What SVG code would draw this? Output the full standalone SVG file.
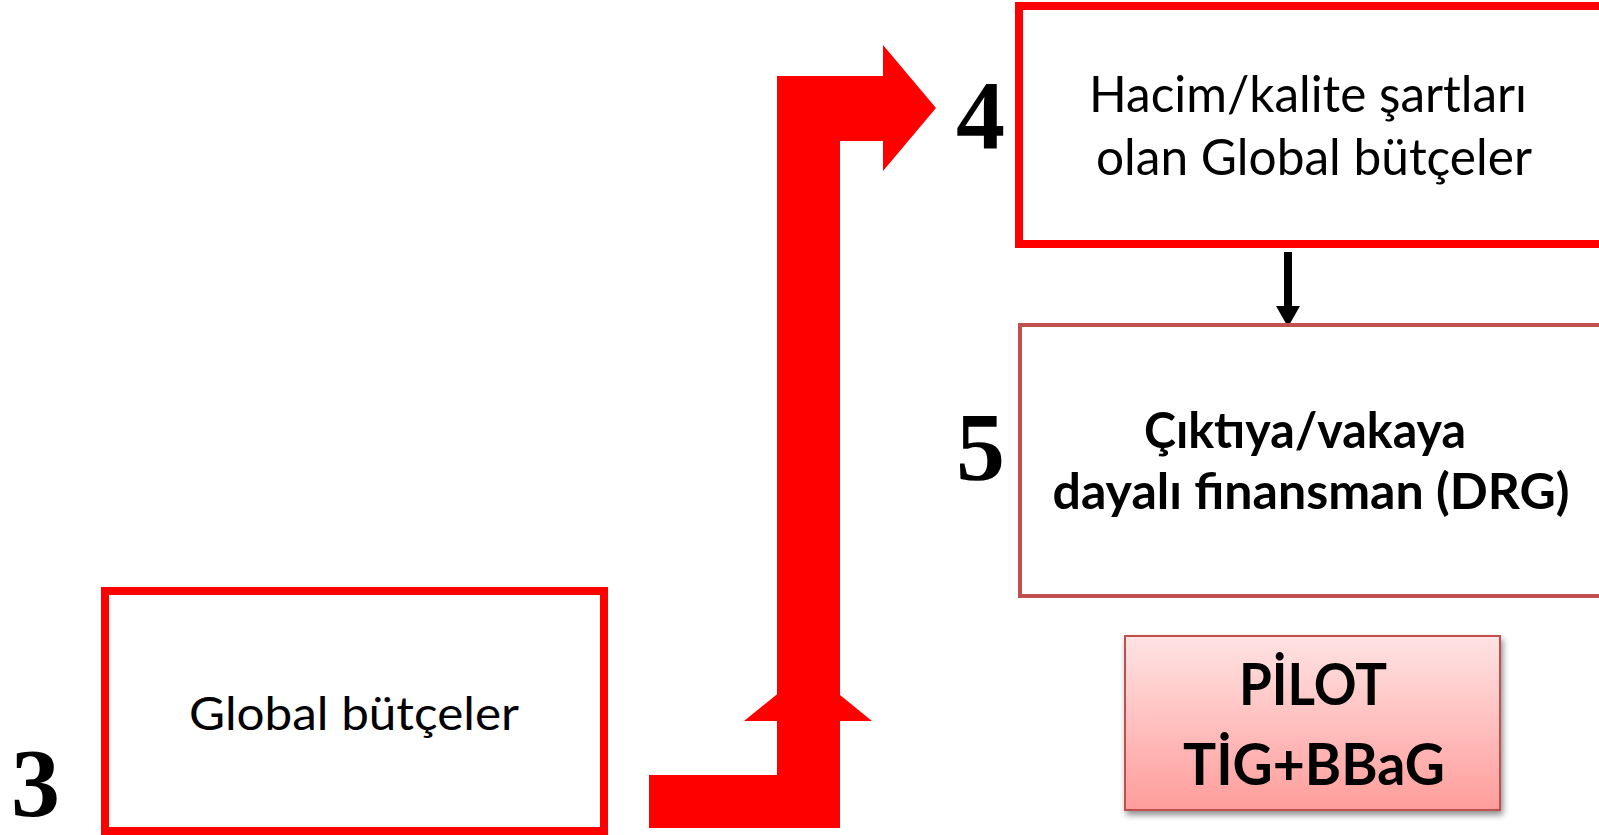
<svg xmlns="http://www.w3.org/2000/svg" width="1599" height="835" viewBox="0 0 1599 835">
  <style>
    .num { font-family: "Liberation Serif", "Times New Roman", serif; font-weight: bold; font-size: 98px; fill: #000; }
    .lbl { font-family: Lato, "Open Sans", sans-serif; fill: #000; text-anchor: middle; }
    .reg { font-size: 50px; }
    .bold { font-weight: bold; font-size: 50px; }
    .redbox { fill: #fff; stroke: #ff0000; stroke-width: 8; }
    .darkbox { fill: #fff; stroke: #c0504d; stroke-width: 4; }
  </style>
  <defs>
    <linearGradient id="pilotFill" x1="0" y1="0" x2="0" y2="1">
      <stop offset="0" stop-color="#ffe3e3"/>
      <stop offset="1" stop-color="#ff9d9b"/>
    </linearGradient>
    <filter id="softShadow" x="-10%" y="-10%" width="125%" height="130%">
      <feGaussianBlur in="SourceAlpha" stdDeviation="3"/>
      <feOffset dx="2" dy="4" result="blur"/>
      <feComponentTransfer><feFuncA type="linear" slope="0.45"/></feComponentTransfer>
      <feMerge><feMergeNode/><feMergeNode in="SourceGraphic"/></feMerge>
    </filter>
  </defs>
  <rect width="1599" height="835" fill="#fff"/>

  <!-- connectors -->
  <g id="connectors">
    <!-- wide bent arrow from box 3 up to box 4 -->
    <polygon fill="#ff0000" points="808,669 872,721 744,721"/>
    <polygon fill="#ff0000" points="649,775 777,775 777,76 883,76 883,45 936,108 883,171 883,141 840,141 840,828 649,828"/>
    <!-- thin arrow from box 4 down to box 5 -->
    <rect x="1284" y="252" width="8" height="56" fill="#000"/>
    <polygon fill="#000" points="1276,306 1300,306 1288,327"/>
  </g>

  <!-- step 3 -->
  <g id="node-3">
    <rect class="redbox" x="105" y="591" width="499" height="240"/>
    <text class="lbl" x="354" y="730" style="font-size:46px" textLength="330" lengthAdjust="spacingAndGlyphs">Global bütçeler</text>
    <text class="num" x="11" y="816">3</text>
  </g>

  <!-- step 4 -->
  <g id="node-4">
    <rect class="redbox" x="1019" y="6" width="600" height="238"/>
    <text class="lbl reg" x="1308" y="112" textLength="438" lengthAdjust="spacingAndGlyphs">Hacim/kalite şartları</text>
    <text class="lbl reg" x="1314" y="175" textLength="436" lengthAdjust="spacingAndGlyphs">olan Global bütçeler</text>
    <text class="num" x="956" y="148">4</text>
  </g>

  <!-- step 5 -->
  <g id="node-5">
    <rect class="darkbox" x="1020" y="325" width="600" height="271"/>
    <text class="lbl bold" x="1305" y="448" textLength="322" lengthAdjust="spacingAndGlyphs">Çıktıya/vakaya</text>
    <text class="lbl bold" x="1311" y="509" textLength="517" lengthAdjust="spacingAndGlyphs">dayalı finansman (DRG)</text>
    <text class="num" x="956" y="480">5</text>
  </g>

  <!-- pilot note -->
  <g id="node-pilot">
    <rect x="1125" y="636" width="375" height="174" fill="url(#pilotFill)" stroke="#c0504d" stroke-width="2" filter="url(#softShadow)"/>
    <text class="lbl" x="1313" y="705" style="font-size:58px;font-weight:bold" textLength="148" lengthAdjust="spacingAndGlyphs">PİLOT</text>
    <text class="lbl" x="1314" y="785" style="font-size:58px;font-weight:bold" textLength="262" lengthAdjust="spacingAndGlyphs">TİG+BBaG</text>
  </g>
</svg>
